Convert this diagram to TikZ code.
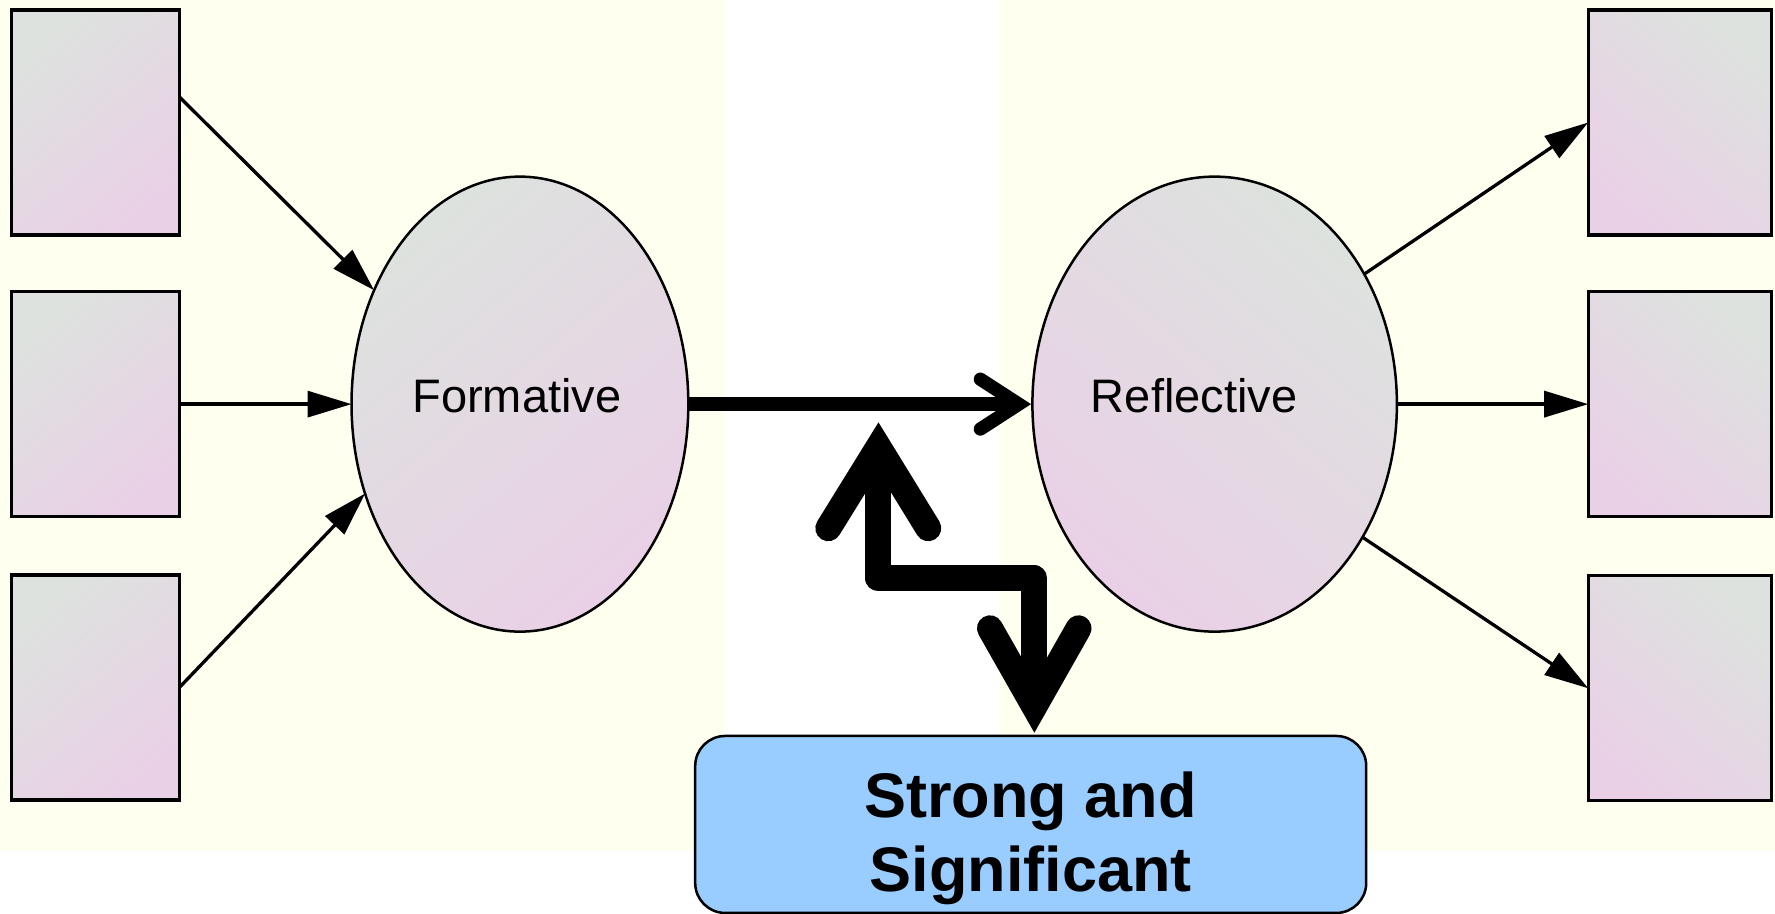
\documentclass[tikz,border=0pt]{standalone}
\usepackage{fontspec}
\setmainfont{Liberation Sans}
\usetikzlibrary{shapes.geometric,arrows.meta,calc}

\definecolor{cream}{RGB}{255,255,240}
\definecolor{shadegray}{RGB}{221,226,222}
\definecolor{shadepink}{RGB}{234,208,230}
\definecolor{boxblue}{RGB}{153,204,255}

\begin{document}
\begin{tikzpicture}[x=1.132pt,y=-1.132pt,
  indicatorL/.style={draw=black, line width=3.3pt, inner sep=0pt, outer sep=0pt,
    minimum width=167.5pt, minimum height=225pt,
    top color=shadegray, bottom color=shadepink, shading angle=40},
  indicatorR/.style={indicatorL, minimum width=183.4pt, shading angle=-40},
  construct/.style={ellipse, draw=black, line width=2.5pt, inner sep=0pt, outer sep=0pt,
    minimum height=455pt, font=\fontsize{47}{56}\selectfont,
    text height=34pt, text depth=18pt},
  link/.style={line width=3.3pt, -{Triangle[length=44pt,width=26pt]}},
  bigline/.style={line width=13.3pt},
  zig/.style={line width=26pt},
  resulttext/.style={align=center, font=\bfseries\fontsize{63}{74}\selectfont,
    inner sep=0pt, yshift=-14pt},
]
% canvas and the two shaded panels
\useasboundingbox (0,0) rectangle (1568,807);
\fill[white] (0,0) rectangle (1568,807);
\fill[cream] (0,0) rectangle (640.5,752);
\fill[cream] (882.5,0) rectangle (1568,752);

% formative indicators
\node[indicatorL] (b1) at (84.4,108.2) {};
\node[indicatorL] (b2) at (84.4,357) {};
\node[indicatorL] (b3) at (84.4,607.4) {};

% reflective indicators
\node[indicatorR] (r1) at (1484,108.2) {};
\node[indicatorR] (r2) at (1484,357) {};
\node[indicatorR] (r3) at (1484,608) {};

% latent constructs
\node[construct, minimum width=336.8pt,
  top color=shadegray, bottom color=shadepink, shading angle=40]
  (F) at (459.3,357) {Formative\hspace*{6pt}};
\node[construct, minimum width=364.5pt,
  top color=shadegray, bottom color=shadepink, shading angle=-40]
  (R) at (1073,357) {Reflective\hspace*{41pt}};

% result box, its two-line caption sitting a little below the middle
\node[draw=black, line width=2.5pt, fill=boxblue, rounded corners=30pt,
  minimum width=671pt, minimum height=177pt, inner sep=0pt,
  label={[name=Stext, resulttext]center:Strong and\\Significant}]
  (S) at (910.5,728.3) {};

% indicator paths
\draw[link] ($(b1.north east)!0.386!(b1.south east)$) -- (F.142);
\draw[link] (b2.east) -- (F.west);
\draw[link] (b3.east) -- (F.210);
\draw[link] (R.41.8) -- (r1.west);
\draw[link] (R.east) -- (r2.west);
\draw[link] (R.-42.3) -- (r3.west);

% structural path with open head
\coordinate (hd) at ($(R.west)+(-12,0)$);
\draw[bigline] (F.east) -- (hd);
\draw[bigline, line cap=round, line join=miter]
  ($(hd)+(-34,-22)$) -- (hd) -- ($(hd)+(-34,22)$);

% two-headed zigzag arrow between the path and the result box
\coordinate (up) at (776,395);
\coordinate (dn) at ($(S.north)+(3.2,-25)$);
\draw[zig, line join=round] (up) -- (776,511) -- (dn |- 0,511) -- (dn);
\draw[zig, line cap=round, line join=miter]
  ($(up)+(-44.3,71.6)$) -- (up) -- ($(up)+(44,71.6)$);
\draw[zig, line cap=round, line join=miter]
  ($(dn)+(-39.2,-69)$) -- (dn) -- ($(dn)+(39.1,-69)$);
\end{tikzpicture}
\end{document}
